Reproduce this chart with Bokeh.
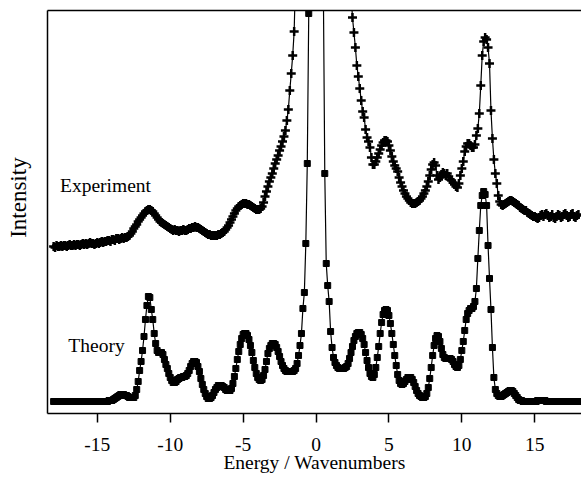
from bokeh.plotting import figure
from bokeh.models import Range1d, LinearAxis, FixedTicker, Label
from bokeh.embed import file_html
from bokeh.resources import INLINE

# ---- data (energy grid: -18 .. 18 in steps of 0.1 wavenumbers) ----
energy_start = -18.0
energy_step = 0.1

theory_intensity = [
    12, 12, 12, 12, 12, 12, 12, 12, 12, 12,          # -18.0 .. -17.1
    12, 12, 12, 12, 12, 12, 12, 12, 12, 12,          # -17.0 .. -16.1
    12, 12, 12, 12, 12, 12, 12, 12, 12, 12,          # -16.0 .. -15.1
    12, 12, 12, 12, 12, 12, 12, 12, 13, 13,          # -15.0 .. -14.1
    13, 14, 15, 16, 17, 18, 19, 19, 19, 18,          # -14.0 .. -13.1
    18, 17, 16, 16, 16, 16, 18, 24, 32, 43,          # -13.0 .. -12.1
    52, 63, 77, 94, 108, 117, 116, 104, 94, 80,      # -12.0 .. -11.1
    70, 63, 61, 61, 61, 59, 54, 49, 45, 40,          # -11.0 .. -10.1
    36, 33, 31, 31, 32, 34, 35, 36, 36, 37,          # -10.0 .. -9.1
    37, 38, 40, 43, 47, 50, 52, 52, 51, 47,          # -9.0 .. -8.1
    42, 35, 29, 24, 20, 17, 15, 15, 16, 18,          # -8.0 .. -7.1
    21, 24, 26, 28, 28, 28, 27, 26, 24, 23,          # -7.0 .. -6.1
    23, 23, 25, 30, 37, 45, 54, 62, 69, 75,          # -6.0 .. -5.1
    79, 80, 80, 78, 74, 68, 61, 53, 46, 40,          # -5.0 .. -4.1
    36, 34, 33, 34, 38, 44, 52, 60, 65, 68,          # -4.0 .. -3.1
    70, 70, 69, 66, 62, 57, 52, 48, 45, 43,          # -3.0 .. -2.1
    42, 42, 42, 42, 42, 43, 45, 50, 58, 68,          # -2.0 .. -1.1
    80, 105, 121, 170, 250, 400, 900, 1600, 2300, 2700,   # -1.0 .. -0.1
    2800, 2700, 2300, 1600, 900, 430, 240, 150, 128, 112, # 0.0 .. 0.9
    82, 66, 56, 51, 48, 46, 45, 45, 45, 45,          # 1.0 .. 1.9
    46, 47, 50, 55, 61, 67, 73, 77, 80, 81,          # 2.0 .. 2.9
    81, 79, 75, 69, 61, 53, 46, 40, 37, 36,          # 3.0 .. 3.9
    39, 46, 56, 67, 80, 91, 99, 103, 104, 103,       # 4.0 .. 4.9
    98, 90, 80, 69, 58, 48, 39, 33, 30, 29,          # 5.0 .. 5.9
    30, 32, 34, 36, 36, 36, 34, 31, 27, 23,          # 6.0 .. 6.9
    20, 18, 17, 16, 16, 17, 20, 26, 35, 46,          # 7.0 .. 7.9
    58, 68, 75, 78, 77, 72, 65, 59, 56, 55,          # 8.0 .. 8.9
    55, 55, 55, 54, 52, 49, 47, 46, 48, 54,          # 9.0 .. 9.9
    63, 72, 83, 94, 100, 103, 105, 105, 107, 112,    # 10.0 .. 10.9
    125, 155, 183, 208, 218, 222, 219, 208, 168, 135,  # 11.0 .. 11.9
    104, 66, 36, 24, 20, 18, 17, 17, 18, 19,         # 12.0 .. 12.9
    20, 21, 22, 23, 23, 22, 20, 18, 16, 14,          # 13.0 .. 13.9
    13, 13, 12, 12, 12, 12, 12, 12, 12, 12,          # 14.0 .. 14.9
    12, 12, 13, 13, 13, 13, 13, 13, 12, 12,          # 15.0 .. 15.9
    12, 12, 12, 12, 12, 12, 12, 12, 12, 12,          # 16.0 .. 16.9
    12, 12, 12, 12, 12, 12, 12, 12, 12, 12,          # 17.0 .. 17.9
    12,                                              # 18.0
]

experiment_intensity = [
    167, 166, 168, 167, 167, 168, 167, 168, 168, 167,   # -18.0 .. -17.1
    168, 169, 168, 168, 169, 168, 169, 169, 168, 169,   # -17.0 .. -16.1
    170, 169, 170, 169, 170, 171, 170, 170, 169, 170,   # -16.0 .. -15.1
    171, 170, 171, 172, 171, 172, 172, 173, 173, 172,   # -15.0 .. -14.1
    174, 174, 173, 175, 175, 174, 175, 176, 175, 176,   # -14.0 .. -13.1
    176, 177, 178, 180, 182, 185, 187, 189, 192, 194,   # -13.0 .. -12.1
    196, 198, 200, 202, 203, 204, 204, 203, 202, 200,   # -12.0 .. -11.1
    198, 196, 194, 192, 191, 190, 189, 188, 187, 186,   # -11.0 .. -10.1
    185, 184, 183, 184, 183, 183, 182, 183, 183, 184,   # -10.0 .. -9.1
    183, 183, 184, 185, 185, 186, 186, 187, 186, 186,   # -9.0 .. -8.1
    185, 184, 183, 182, 181, 180, 179, 179, 178, 178,   # -8.0 .. -7.1
    178, 178, 178, 179, 179, 180, 181, 182, 184, 186,   # -7.0 .. -6.1
    188, 191, 194, 197, 200, 203, 205, 207, 208, 209,   # -6.0 .. -5.1
    210, 210, 210, 209, 209, 208, 207, 206, 205, 204,   # -5.0 .. -4.1
    204, 204, 205, 207, 211, 217, 222, 227, 232, 236,   # -4.0 .. -3.1
    240, 245, 250, 254, 258, 263, 267, 272, 277, 283,   # -3.0 .. -2.1
    293, 304, 323, 340, 358, 382, 440, 520, 600, 680,   # -2.0 .. -1.1
    760, 840, 920, 1000, 1080, 1150, 1200, 1240, 1270, 1290,  # -1.0 .. -0.1
    1300, 1290, 1270, 1240, 1200, 1150, 1080, 1000, 920, 840,  # 0.0 .. 0.9
    760, 700, 650, 610, 580, 550, 530, 510, 495, 480,   # 1.0 .. 1.9
    470, 460, 450, 435, 420, 396, 381, 366, 348, 337,   # 2.0 .. 2.9
    325, 313, 302, 296, 284, 276, 272, 266, 256, 249,   # 3.0 .. 3.9
    249, 252, 256, 260, 264, 268, 271, 273, 273, 272,   # 4.0 .. 4.9
    268, 263, 257, 252, 248, 245, 242, 236, 231, 227,   # 5.0 .. 5.9
    223, 220, 217, 215, 213, 211, 210, 210, 210, 211,   # 6.0 .. 6.9
    212, 213, 215, 217, 220, 223, 227, 232, 238, 244,   # 7.0 .. 7.9
    249, 251, 248, 238, 234, 236, 239, 241, 240, 238,   # 8.0 .. 8.9
    240, 237, 234, 233, 231, 229, 227, 226, 230, 238,   # 9.0 .. 9.9
    245, 252, 262, 267, 270, 270, 268, 266, 266, 269,   # 10.0 .. 10.9
    278, 285, 300, 328, 358, 372, 376, 374, 366, 350,   # 11.0 .. 11.9
    303, 275, 254, 240, 230, 218, 212, 209, 208, 209,   # 12.0 .. 12.9
    210, 211, 212, 213, 213, 212, 211, 210, 209, 208,   # 13.0 .. 13.9
    206, 205, 204, 203, 203, 201, 200, 199, 198, 197,   # 14.0 .. 14.9
    197, 196, 195, 196, 198, 199, 197, 199, 200, 198,   # 15.0 .. 15.9
    196, 197, 199, 196, 195, 197, 199, 198, 196, 197,   # 16.0 .. 16.9
    199, 200, 198, 196, 197, 199, 200, 197, 196, 198,   # 17.0 .. 17.9
    199,                                                # 18.0
]

tick_values = [-15, -10, -5, 0, 5, 10, 15]
tick_labels = ["-15", "-10", "-5", "0", "5", "10", "15"]

x_title = "Energy / Wavenumbers"
y_title = "Intensity"
experiment_name = "Experiment"
theory_name = "Theory"

energy_theory = [round(energy_start + i * energy_step, 2) for i in range(len(theory_intensity))]
energy_experiment = [round(energy_start + i * energy_step, 2) for i in range(len(experiment_intensity))]

FONT = "Liberation Serif"
FSIZE = "19.5px"
NBSP = "\u00a0"

p = figure(width=581, height=483,
           x_range=Range1d(-18.42, 18.21), y_range=Range1d(0, 403),
           output_backend="svg", toolbar_location=None,
           min_border_left=47, min_border_right=0,
           min_border_top=10, min_border_bottom=70)
p.outline_line_color = None
p.grid.visible = False
p.background_fill_color = "white"
p.border_fill_color = "white"

# bottom axis
xa = p.xaxis[0]
xa.ticker = FixedTicker(ticks=tick_values)
xa.major_label_overrides = {v: l for v, l in zip(tick_values, tick_labels)}
xa.major_tick_in = 0
xa.major_tick_out = 9
xa.minor_tick_line_color = None
xa.axis_line_width = 1.5
xa.major_tick_line_width = 1.5
xa.major_label_text_font = FONT
xa.major_label_text_font_size = FSIZE
xa.major_label_text_color = "black"
xa.major_label_standoff = 15
xa.axis_line_color = "black"
xa.axis_label = x_title
xa.axis_label_text_font = FONT
xa.axis_label_text_font_size = FSIZE
xa.axis_label_text_font_style = "normal"
xa.axis_label_text_color = "black"
xa.axis_label_standoff = -2

# left axis: plain line with title
ya = p.yaxis[0]
ya.ticker = FixedTicker(ticks=[])
ya.major_tick_line_color = None
ya.minor_tick_line_color = None
ya.axis_line_width = 1.5
ya.axis_line_color = "black"
ya.axis_label = NBSP * 5 + y_title
ya.axis_label_text_font = FONT
ya.axis_label_text_font_size = "23px"
ya.axis_label_text_font_style = "normal"
ya.axis_label_text_color = "black"
ya.axis_label_standoff = 17

# top frame line
top = LinearAxis(ticker=FixedTicker(ticks=[]), axis_line_width=1.5,
                 major_tick_line_color=None, minor_tick_line_color=None)
p.add_layout(top, "above")

# experiment
p.line(energy_experiment, experiment_intensity, line_color="black", line_width=1.2)
p.scatter(energy_experiment, experiment_intensity, marker="cross", size=9,
          line_color="black", line_width=2.5)

# theory
p.line(energy_theory, theory_intensity, line_color="black", line_width=1.2)
p.scatter(energy_theory, theory_intensity, marker="square", size=6,
          fill_color="black", line_color="black")

# curve names
p.add_layout(Label(x=-17.56, y=228, text=experiment_name, text_font=FONT,
                   text_font_size=FSIZE, text_color="black",
                   text_baseline="alphabetic", text_align="left"))
p.add_layout(Label(x=-16.99, y=68, text=theory_name, text_font=FONT,
                   text_font_size=FSIZE, text_color="black",
                   text_baseline="alphabetic", text_align="left"))

open("out.html", "w").write(file_html(p, INLINE))
